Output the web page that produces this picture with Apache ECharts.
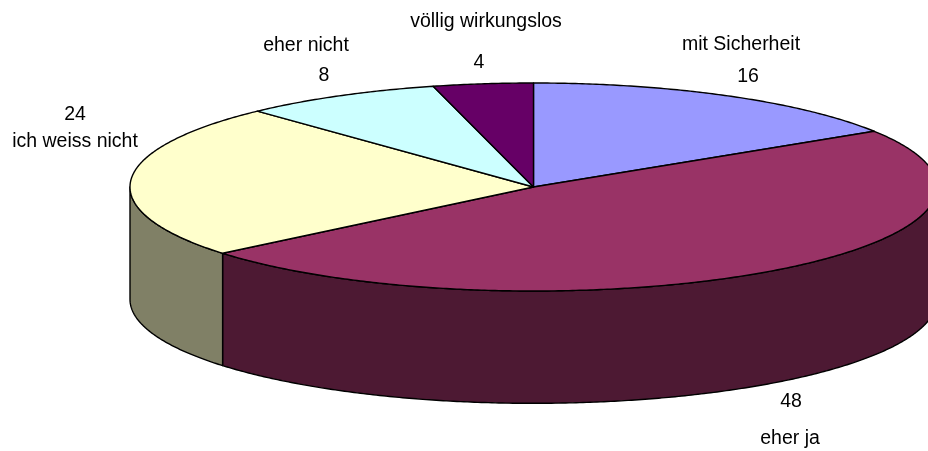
<!DOCTYPE html>
<html>
<head>
<meta charset="utf-8">
<style>
  html, body { margin: 0; padding: 0; background: #fff; }
  #chart { width: 928px; height: 451px; }
</style>
</head>
<body>
<div id="chart"></div>
<script src="https://cdn.jsdelivr.net/npm/echarts@6/dist/echarts.min.js"></script>
<script type="text/javascript">
  var categories = ['mit Sicherheit', 'eher ja', 'ich weiss nicht', 'eher nicht', 'völlig wirkungslos'];
  var values = [16, 48, 24, 8, 4];
  var topColors = ['#9999FF', '#993366', '#FFFFCC', '#CCFFFF', '#660066'];
  var sideColors = ['#4C4C80', '#4D1933', '#808066', '#668080', '#330033'];

  // where each label goes: [name x, name y, value x, value y]
  var labelSpots = [
    [741, 45, 748, 77],
    [790, 439, 791, 402],
    [75, 142, 75, 115],
    [306, 46, 324, 76],
    [486, 22, 479, 63]
  ];

  // height of the pie wall, in units of the top ellipse's radius
  var wall = 1.08;

  var total = 0;
  values.forEach(function (v) { total += v; });

  function rim(turn, drop, api) {
    var a = turn * 2 * Math.PI;
    return api.coord([Math.sin(a), Math.cos(a) - drop]);
  }

  function arc(from, to, drop, api) {
    var pts = [];
    var steps = Math.max(2, Math.ceil(Math.abs(to - from) * 720));
    for (var i = 0; i <= steps; i++) {
      pts.push(rim(from + (to - from) * i / steps, drop, api));
    }
    return pts;
  }

  function renderSlice(params, api) {
    var i = params.dataIndex;
    var before = 0;
    for (var k = 0; k < i; k++) before += values[k];
    var start = before / total;
    var end = (before + api.value(0)) / total;
    var line = { stroke: '#000', lineWidth: 1.4, lineJoin: 'round' };
    var children = [];

    // only the front half of the wall can be seen (turn 0.25 to 0.75)
    var wallFrom = Math.max(start, 0.25);
    var wallTo = Math.min(end, 0.75);
    if (wallTo > wallFrom) {
      children.push({
        type: 'polygon',
        shape: { points: arc(wallFrom, wallTo, 0, api).concat(arc(wallTo, wallFrom, wall, api)) },
        style: Object.assign({ fill: sideColors[i] }, line)
      });
    }

    children.push({
      type: 'polygon',
      shape: { points: [api.coord([0, 0])].concat(arc(start, end, 0, api)) },
      style: Object.assign({ fill: topColors[i] }, line)
    });

    return { type: 'group', children: children };
  }

  var labels = [];
  categories.forEach(function (name, i) {
    var spot = labelSpots[i];
    [[name, spot[0], spot[1]], [String(values[i]), spot[2], spot[3]]].forEach(function (t) {
      labels.push({
        type: 'text',
        x: t[1],
        y: t[2],
        style: {
          text: t[0],
          fill: '#000',
          font: '19.5px "Liberation Sans", Arial, sans-serif',
          textAlign: 'center',
          textVerticalAlign: 'middle'
        }
      });
    });
  });

  var myChart = echarts.init(document.getElementById('chart'), null, { renderer: 'canvas' });
  var option = {
    animation: false,
    grid: { left: 130, top: 83, width: 807, height: 208, outerBoundsMode: 'none' },
    xAxis: { type: 'value', min: -1, max: 1, show: false },
    yAxis: { type: 'value', min: -1, max: 1, show: false },
    series: [
      {
        type: 'custom',
        coordinateSystem: 'cartesian2d',
        clip: false,
        renderItem: renderSlice,
        data: values.map(function (v, i) { return { name: categories[i], value: [v] }; })
      }
    ],
    graphic: labels
  };
  myChart.setOption(option);
</script>
</body>
</html>
